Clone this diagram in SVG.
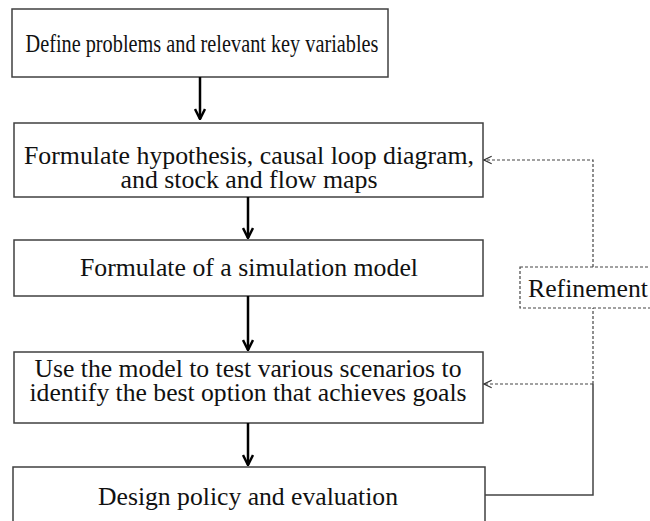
<svg xmlns="http://www.w3.org/2000/svg" width="650" height="521" viewBox="0 0 650 521">
  <style>
    .box { fill: #ffffff; stroke: #404040; stroke-width: 1.5; }
    .lbl { font-family: "Liberation Serif", "Times New Roman", serif; font-size: 25px; fill: #111; text-anchor: middle; }
    .flow { fill: none; stroke: #000; stroke-width: 2.5; }
    .dash { fill: none; stroke: #444; stroke-width: 1.2; stroke-dasharray: 3 2; }
    .solid { fill: none; stroke: #444; stroke-width: 1.5; }
  </style>
  <defs>
    <marker id="head" viewBox="0 0 10 10" refX="9" refY="5" markerWidth="5" markerHeight="5" orient="auto" markerUnits="strokeWidth">
      <path d="M1,1 L9,5 L1,9" fill="none" stroke="#000" stroke-width="2"/>
    </marker>
    <marker id="openhead" viewBox="0 0 10 10" refX="9" refY="5" markerWidth="8" markerHeight="8" orient="auto" markerUnits="strokeWidth">
      <path d="M1,1 L9,5 L1,9" fill="none" stroke="#333" stroke-width="1.2"/>
    </marker>
  </defs>

  <rect width="650" height="521" fill="#ffffff"/>

  <g id="n1">
    <rect class="box" x="12" y="9" width="376" height="68"/>
    <text class="lbl" x="202" y="52" textLength="353" lengthAdjust="spacingAndGlyphs">Define problems and relevant key variables</text>
  </g>
  <g id="n2">
    <rect class="box" x="14" y="123" width="469" height="74"/>
    <text class="lbl" x="249" y="164" textLength="450" lengthAdjust="spacingAndGlyphs">Formulate hypothesis, causal loop diagram,</text>
    <text class="lbl" x="249" y="188" textLength="257" lengthAdjust="spacingAndGlyphs">and stock and flow maps</text>
  </g>
  <g id="n3">
    <rect class="box" x="14" y="240" width="469" height="56"/>
    <text class="lbl" x="249" y="276" textLength="338" lengthAdjust="spacingAndGlyphs">Formulate of a simulation model</text>
  </g>
  <g id="n4">
    <rect class="box" x="14" y="352" width="469" height="71"/>
    <text class="lbl" x="248" y="377" textLength="427" lengthAdjust="spacingAndGlyphs">Use the model to test various scenarios to</text>
    <text class="lbl" x="248" y="401" textLength="437" lengthAdjust="spacingAndGlyphs">identify the best option that achieves goals</text>
  </g>
  <g id="n5">
    <rect class="box" x="13" y="467" width="472" height="70"/>
    <text class="lbl" x="248" y="505" textLength="300" lengthAdjust="spacingAndGlyphs">Design policy and evaluation</text>
  </g>
  <g id="refinement">
    <rect class="dash" x="520" y="267" width="140" height="41"/>
    <text class="lbl" x="588" y="297" textLength="120" lengthAdjust="spacingAndGlyphs">Refinement</text>
  </g>

  <g id="connectors">
    <line class="flow" x1="200" y1="77" x2="200" y2="119" marker-end="url(#head)"/>
    <line class="flow" x1="248" y1="197" x2="248" y2="238" marker-end="url(#head)"/>
    <line class="flow" x1="248" y1="296" x2="248" y2="350" marker-end="url(#head)"/>
    <line class="flow" x1="248" y1="423" x2="248" y2="465" marker-end="url(#head)"/>
    <!-- feedback loop from the last step -->
    <polyline class="solid" points="485,495 593,495 593,384"/>
    <line class="dash" x1="593" y1="384" x2="593" y2="308"/>
    <line class="dash" x1="593" y1="384" x2="484" y2="384" marker-end="url(#openhead)"/>
    <polyline class="dash" points="593,267 593,160 484,160" marker-end="url(#openhead)"/>
  </g>
</svg>
